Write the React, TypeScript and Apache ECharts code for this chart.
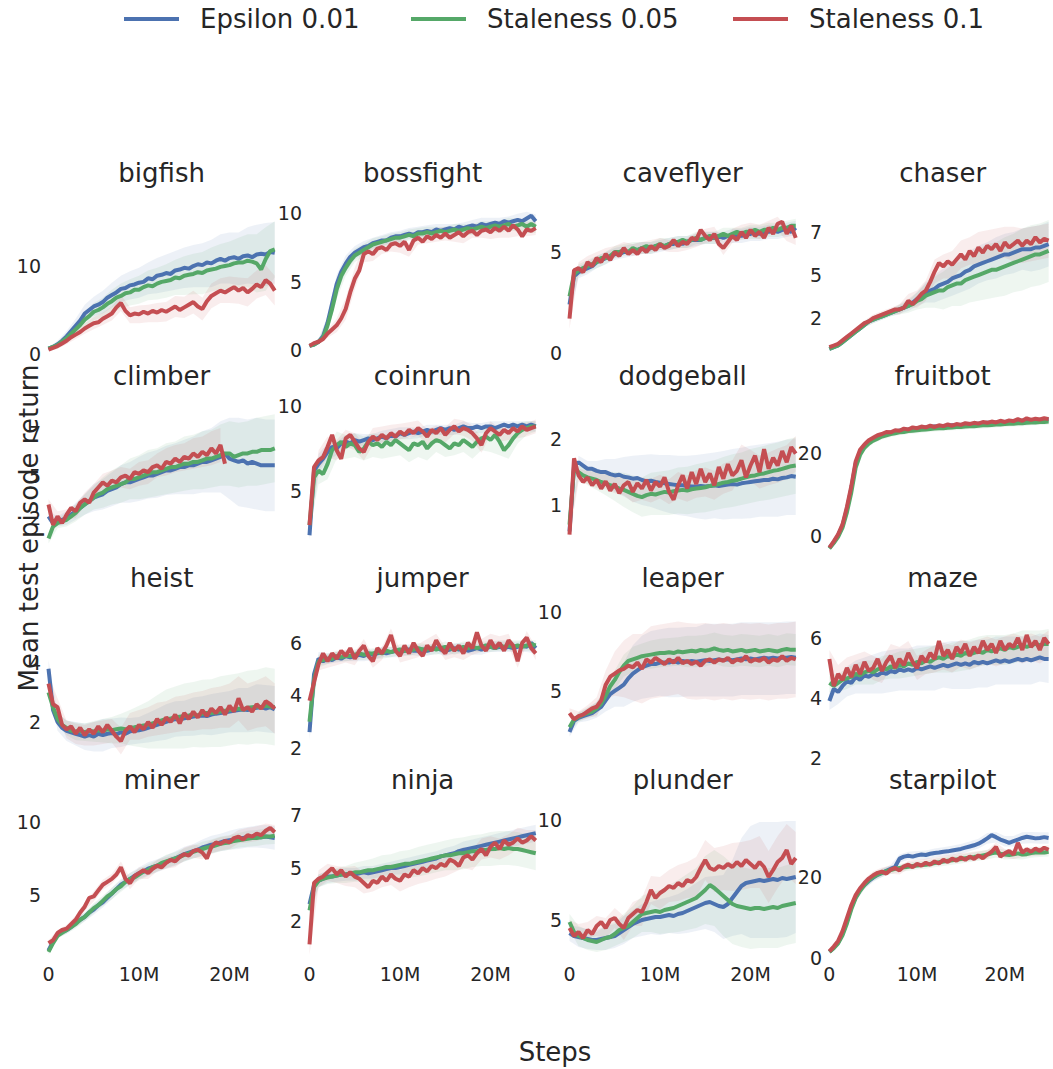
import React, { useEffect, useRef } from "react";
import * as echarts from "echarts";

const FONT = "DejaVu Sans";
const TEXT = "#262626";
const SERIES_NAMES = ["Epsilon 0.01", "Staleness 0.05", "Staleness 0.1"];
const SERIES_COLORS = ["#4C72B0", "#55A868", "#C44E52"];
const GAMES = ["bigfish", "bossfight", "caveflyer", "chaser", "climber", "coinrun", "dodgeball", "fruitbot", "heist", "jumper", "leaper", "maze", "miner", "ninja", "plunder", "starpilot"];

const STEPS_M = [0,0.5,1,1.5,2,2.5,3,3.5,4,4.5,5,5.5,6,6.5,7,7.5,8,8.5,9,9.5,10,10.5,11,11.5,12,12.5,13,13.5,14,14.5,15,15.5,16,16.5,17,17.5,18,18.5,19,19.5,20,20.5,21,21.5,22,22.5,23,23.5,24,24.5,25];
const BAND_STEPS_M = [0,1,2,3,4,5,6,7,8,9,10,11,12,13,14,15,16,17,18,19,20,21,22,23,24,25];
const X_TICKS = [0, 10, 20];
const X_TICK_LABELS = ["0", "10M", "20M"];

// ---- mean returns (every 0.5M steps) ----
const BIGFISH_EPS = [0.6,0.8,1.1,1.5,2.0,2.6,3.2,3.8,4.6,5.0,5.4,5.6,5.9,6.4,6.7,7.0,7.4,7.5,7.8,7.9,8.1,8.2,8.6,8.5,8.9,9.0,9.2,9.1,9.5,9.6,9.8,9.7,10.0,10.2,10.1,10.4,10.3,10.6,10.8,10.6,10.9,11.0,10.8,11.1,11.2,11.0,11.3,11.4,11.3,11.6,11.5];
const BIGFISH_S05 = [0.6,0.8,1.0,1.4,1.8,2.3,2.8,3.3,3.9,4.3,4.8,5.0,5.3,5.7,6.0,6.4,6.6,6.9,7.0,7.3,7.3,7.6,7.8,7.7,8.0,8.2,8.3,8.4,8.7,8.6,8.9,9.0,9.1,9.3,9.2,9.5,9.6,9.7,9.9,10.0,10.1,10.3,10.4,10.4,10.6,10.5,10.3,9.6,10.8,11.7,11.9];
const BIGFISH_S10 = [0.5,0.7,0.9,1.2,1.5,1.9,2.2,2.5,2.9,3.2,3.5,3.6,4.0,4.3,4.6,5.3,5.8,4.9,4.4,4.6,4.5,4.8,4.6,4.9,4.7,5.0,4.8,5.1,5.4,5.0,5.3,5.6,5.9,5.4,5.1,6.0,6.6,6.9,7.2,7.0,7.3,7.6,7.2,7.5,7.0,7.4,7.9,7.6,8.4,8.0,7.2];

const BOSSFIGHT_EPS = [0.3,0.4,0.6,1.0,2.0,3.4,4.8,5.7,6.3,6.8,7.1,7.3,7.5,7.6,7.8,7.9,8.0,8.0,8.2,8.3,8.3,8.4,8.5,8.4,8.6,8.6,8.7,8.6,8.8,8.7,8.8,8.9,8.8,9.0,8.9,9.0,9.1,9.0,9.2,9.1,9.2,9.3,9.2,9.4,9.3,9.4,9.5,9.4,9.6,9.8,9.4];
const BOSSFIGHT_S05 = [0.3,0.4,0.6,0.9,1.8,3.0,4.4,5.4,6.0,6.5,6.9,7.1,7.3,7.5,7.7,7.8,7.9,8.0,8.1,8.2,8.2,8.3,8.4,8.3,8.5,8.5,8.6,8.5,8.6,8.7,8.6,8.7,8.8,8.7,8.8,8.9,8.8,8.9,9.0,8.9,9.0,9.1,9.0,9.1,9.2,9.0,9.1,9.2,9.0,9.2,9.0];
const BOSSFIGHT_S10 = [0.3,0.5,0.6,0.8,1.2,1.5,1.8,2.3,3.0,4.2,5.2,5.8,7.0,7.2,7.0,7.4,7.5,7.3,7.7,7.8,7.6,7.9,7.3,8.0,8.2,7.9,8.3,8.1,8.4,8.2,8.5,8.2,8.4,8.6,8.3,8.6,8.7,8.4,8.7,8.8,8.6,8.9,8.7,9.0,8.7,9.1,8.8,8.3,8.8,8.7,8.9];

const CAVEFLYER_EPS = [2.4,3.8,4.0,4.1,4.2,4.3,4.5,4.6,4.7,4.8,4.9,4.9,5.0,5.0,5.1,5.1,5.2,5.1,5.2,5.3,5.3,5.3,5.4,5.4,5.5,5.4,5.5,5.6,5.6,5.6,5.7,5.7,5.7,5.8,5.7,5.8,5.8,5.9,5.8,5.9,5.9,6.0,5.9,6.0,6.0,6.1,6.0,6.1,6.1,6.0,6.2];
const CAVEFLYER_S05 = [2.8,3.9,4.1,4.2,4.3,4.4,4.5,4.7,4.7,4.8,5.0,5.0,5.1,5.0,5.2,5.1,5.2,5.3,5.2,5.3,5.4,5.3,5.4,5.5,5.5,5.6,5.5,5.6,5.7,5.6,5.7,5.8,5.7,5.8,5.9,5.8,5.9,6.0,5.9,6.0,6.0,6.1,6.0,6.1,6.1,6.2,6.1,6.2,6.2,6.3,6.3];
const CAVEFLYER_S10 = [1.7,4.1,4.2,4.0,4.5,4.3,4.7,4.5,4.9,4.6,5.0,4.8,5.2,4.9,5.1,4.9,5.2,5.0,5.3,5.1,5.4,5.2,5.3,5.6,5.3,5.5,5.4,5.7,5.6,6.1,5.8,5.6,5.9,5.4,5.2,5.5,5.8,5.6,6.0,5.7,6.1,5.8,6.0,5.7,6.2,5.9,6.4,6.5,5.9,6.3,5.7];

const CHASER_EPS = [0.7,0.8,0.9,1.1,1.3,1.5,1.7,1.9,2.1,2.3,2.4,2.5,2.6,2.7,2.8,2.9,3.0,3.1,3.2,3.4,3.6,3.8,4.0,4.1,4.2,4.4,4.5,4.6,4.8,4.9,5.0,5.2,5.3,5.5,5.6,5.7,5.8,5.9,6.0,6.1,6.2,6.2,6.3,6.4,6.5,6.5,6.5,6.6,6.6,6.7,6.8];
const CHASER_S05 = [0.7,0.8,0.9,1.1,1.3,1.5,1.7,1.9,2.1,2.3,2.4,2.5,2.6,2.7,2.8,2.9,3.0,3.1,3.2,3.3,3.5,3.6,3.8,3.9,4.0,4.1,4.1,4.3,4.4,4.5,4.5,4.7,4.8,4.9,5.0,5.1,5.2,5.3,5.3,5.4,5.5,5.6,5.7,5.8,5.9,6.0,6.1,6.2,6.2,6.3,6.4];
const CHASER_S10 = [0.8,0.9,1.0,1.2,1.4,1.6,1.8,2.0,2.2,2.3,2.5,2.6,2.7,2.8,2.9,3.0,3.0,3.1,3.5,3.3,3.6,3.9,4.1,4.6,5.2,5.7,5.5,5.8,5.6,5.9,6.2,5.9,6.4,6.1,6.6,6.3,6.7,6.5,6.8,6.4,6.9,6.6,6.8,7.0,6.7,7.0,6.8,7.2,6.9,7.1,7.0];

const CLIMBER_EPS = [2.6,2.2,2.3,2.4,2.5,2.7,2.9,3.1,3.3,3.5,3.7,3.8,3.9,4.1,4.2,4.3,4.5,4.6,4.6,4.7,4.8,4.9,5.0,5.0,5.1,5.2,5.3,5.3,5.4,5.5,5.5,5.6,5.6,5.7,5.8,5.8,5.9,6.0,6.1,6.3,6.0,5.9,5.8,5.9,5.7,5.8,5.7,5.6,5.6,5.6,5.6];
const CLIMBER_S05 = [1.3,2.0,2.2,2.3,2.4,2.6,2.8,3.1,3.3,3.5,3.7,3.9,4.0,4.2,4.3,4.4,4.5,4.6,4.8,4.8,4.9,5.0,5.1,5.2,5.2,5.3,5.4,5.5,5.5,5.6,5.7,5.7,5.8,5.8,5.9,6.0,6.0,6.1,6.2,6.3,6.3,6.1,6.2,6.3,6.3,6.4,6.4,6.5,6.5,6.5,6.6];
const CLIMBER_S10 = [3.3,2.1,2.6,2.2,2.7,3.1,2.9,3.4,3.6,3.4,4.0,4.3,4.6,4.4,4.7,4.6,4.9,5.0,4.8,5.2,5.1,5.3,5.2,5.5,5.6,5.4,5.8,5.7,6.0,5.8,6.1,6.0,6.3,6.1,6.4,6.2,6.6,6.3,6.8,5.7];

const COINRUN_EPS = [2.4,6.2,6.6,6.9,7.3,7.6,7.5,7.8,7.9,7.8,8.0,7.9,8.0,8.1,8.0,8.1,8.2,8.1,8.3,8.2,8.4,8.3,8.4,8.5,8.4,8.5,8.6,8.5,8.6,8.7,8.6,8.7,8.6,8.7,8.8,8.7,8.7,8.8,8.7,8.8,8.8,8.7,8.8,8.9,8.8,8.9,8.8,8.9,8.8,8.9,8.8];
const COINRUN_S05 = [3.0,5.8,6.2,6.0,6.6,7.4,7.7,7.9,7.6,7.8,7.7,7.3,7.5,7.9,7.7,7.8,7.6,7.9,7.7,8.0,7.8,7.6,7.4,7.8,7.7,7.9,7.5,7.8,8.0,7.9,7.7,7.5,7.8,7.7,8.0,7.8,7.6,7.9,8.1,8.2,8.0,8.3,7.9,7.4,7.7,8.1,8.4,8.6,8.7,8.8,8.8];
const COINRUN_S10 = [3.0,6.4,6.8,7.0,7.6,8.3,7.4,6.9,8.1,8.3,7.9,7.5,7.3,7.9,8.2,8.0,8.3,8.1,8.4,8.2,8.5,8.3,8.6,8.4,8.7,8.5,8.2,8.6,8.4,8.7,8.3,8.6,8.8,8.5,8.7,8.6,8.4,8.1,7.7,8.4,8.7,8.5,8.3,8.6,8.4,8.7,8.5,8.8,8.6,8.7,8.8];

const DODGEBALL_EPS = [0.6,1.6,1.65,1.6,1.55,1.55,1.52,1.5,1.5,1.47,1.45,1.46,1.43,1.42,1.4,1.41,1.38,1.36,1.37,1.35,1.34,1.33,1.32,1.31,1.3,1.3,1.29,1.28,1.28,1.29,1.28,1.29,1.3,1.29,1.3,1.31,1.32,1.31,1.33,1.34,1.35,1.36,1.37,1.38,1.38,1.4,1.39,1.41,1.42,1.44,1.43];
const DODGEBALL_S05 = [0.7,1.55,1.5,1.45,1.42,1.4,1.38,1.35,1.33,1.3,1.28,1.25,1.23,1.2,1.17,1.14,1.12,1.15,1.17,1.16,1.18,1.2,1.19,1.21,1.22,1.23,1.22,1.24,1.25,1.26,1.27,1.29,1.3,1.32,1.34,1.35,1.37,1.38,1.4,1.42,1.44,1.45,1.47,1.48,1.5,1.52,1.53,1.55,1.57,1.59,1.6];
const DODGEBALL_S10 = [0.55,1.71,1.45,1.35,1.42,1.3,1.38,1.25,1.36,1.22,1.32,1.18,1.3,1.35,1.2,1.33,1.25,1.38,1.22,1.35,1.28,1.42,1.2,1.08,1.3,1.45,1.25,1.5,1.32,1.55,1.35,1.48,1.3,1.58,1.4,1.62,1.45,1.52,1.68,1.42,1.6,1.75,1.5,1.85,1.55,1.72,1.6,1.82,1.65,1.88,1.78];

const FRUITBOT_EPS = [-2.9,-1.5,0.2,2.5,6.5,11.5,17.5,20.3,21.8,22.8,23.5,24.0,24.4,24.8,25.0,25.2,25.4,25.6,25.7,25.9,26.0,26.1,26.2,26.3,26.4,26.4,26.5,26.6,26.7,26.7,26.8,26.9,27.0,27.0,27.1,27.2,27.3,27.3,27.4,27.5,27.5,27.6,27.7,27.7,27.8,27.9,27.9,28.0,28.0,28.1,28.1];
const FRUITBOT_S05 = [-3.0,-1.7,-0.2,2.0,5.7,10.5,16.5,19.6,21.3,22.3,23.0,23.5,24.0,24.3,24.6,24.8,25.0,25.1,25.3,25.4,25.5,25.6,25.7,25.8,25.9,26.0,26.0,26.1,26.2,26.3,26.3,26.4,26.5,26.5,26.6,26.7,26.7,26.8,26.9,26.9,27.0,27.1,27.1,27.2,27.2,27.3,27.4,27.4,27.5,27.5,27.6];
const FRUITBOT_S10 = [-2.8,-1.3,0.4,2.8,7.0,12.0,18.0,20.8,22.1,23.1,23.7,24.3,24.6,25.1,25.0,25.5,25.4,25.9,25.7,26.2,26.0,26.4,26.2,26.6,26.3,26.7,26.5,26.9,26.6,27.0,26.8,27.2,27.0,27.3,27.1,27.5,27.3,27.6,27.4,27.8,27.5,27.9,27.7,28.2,27.8,28.4,28.0,28.3,28.1,28.4,28.2];

const HEIST_EPS = [3.8,2.4,2.0,1.8,1.7,1.65,1.6,1.55,1.5,1.55,1.5,1.6,1.55,1.6,1.62,1.58,1.65,1.6,1.68,1.7,1.72,1.75,1.8,1.85,1.9,1.95,2.0,2.05,2.1,2.08,2.12,2.15,2.18,2.2,2.22,2.2,2.25,2.28,2.3,2.32,2.35,2.38,2.4,2.42,2.4,2.45,2.48,2.5,2.45,2.5,2.42];
const HEIST_S05 = [3.0,2.5,2.1,1.9,1.8,1.7,1.68,1.7,1.65,1.7,1.68,1.72,1.7,1.75,1.72,1.75,1.78,1.75,1.8,1.82,1.85,1.88,1.9,1.95,2.0,2.05,2.1,2.12,2.15,2.18,2.2,2.22,2.25,2.22,2.28,2.3,2.3,2.32,2.35,2.38,2.4,2.42,2.45,2.42,2.48,2.5,2.52,2.5,2.55,2.52,2.5];
const HEIST_S10 = [3.3,2.6,2.5,1.9,1.75,1.85,1.6,1.8,1.55,1.75,1.6,1.85,1.65,1.9,1.7,1.5,1.35,1.7,1.85,1.65,1.9,1.75,2.0,1.8,2.1,1.9,2.15,2.0,2.25,1.95,2.3,2.1,2.35,2.15,2.4,2.2,2.45,2.3,2.5,2.25,2.55,2.35,2.8,2.4,2.5,2.35,2.6,2.45,2.7,2.6,2.45];

const JUMPER_EPS = [2.6,4.8,5.4,5.3,5.4,5.35,5.45,5.4,5.5,5.45,5.5,5.55,5.5,5.6,5.55,5.6,5.65,5.6,5.65,5.7,5.65,5.7,5.75,5.7,5.7,5.75,5.7,5.75,5.8,5.75,5.7,5.75,5.8,5.75,5.8,5.7,5.75,5.8,5.75,5.8,5.85,5.8,5.85,5.8,5.85,5.8,5.85,5.9,5.85,6.0,5.8];
const JUMPER_S05 = [3.0,4.6,5.3,5.35,5.4,5.4,5.5,5.45,5.5,5.5,5.55,5.6,5.55,5.6,5.6,5.65,5.6,5.7,5.65,5.7,5.75,5.7,5.7,5.75,5.8,5.75,5.75,5.8,5.75,5.8,5.85,5.8,5.75,5.8,5.85,5.8,5.85,5.8,5.85,5.9,5.85,5.8,5.9,5.85,5.9,5.85,5.9,5.85,5.9,5.95,5.9];
const JUMPER_S10 = [3.8,4.5,5.2,5.6,5.3,5.6,5.4,5.7,5.5,5.8,5.4,5.7,5.9,5.5,5.3,5.8,5.6,5.9,6.3,5.7,5.5,5.9,5.6,6.0,5.7,5.5,5.9,5.7,6.1,5.8,5.6,6.0,5.7,5.9,5.6,6.0,5.8,6.4,5.9,5.7,6.1,5.8,6.0,5.7,6.1,5.9,5.3,6.0,6.2,5.8,5.6];

const LEAPER_EPS = [2.4,3.1,3.3,3.4,3.5,3.6,3.8,4.0,4.4,4.8,5.0,5.2,5.4,5.8,6.1,6.3,6.5,6.6,6.7,6.7,6.8,6.8,6.8,6.9,6.8,6.9,6.85,6.9,6.85,6.9,6.95,6.9,6.95,7.0,6.95,7.0,6.95,7.0,7.05,7.0,7.05,7.0,7.05,7.1,7.05,7.1,7.05,7.1,7.1,7.15,7.1];
const LEAPER_S05 = [2.7,3.2,3.35,3.5,3.6,3.7,3.9,4.2,4.7,5.3,5.7,6.2,6.6,6.9,7.0,7.1,7.2,7.25,7.3,7.35,7.4,7.4,7.45,7.4,7.5,7.45,7.5,7.55,7.5,7.6,7.55,7.6,7.7,7.6,7.55,7.6,7.5,7.55,7.6,7.5,7.55,7.6,7.5,7.55,7.6,7.55,7.5,7.6,7.65,7.6,7.6];
const LEAPER_S10 = [3.6,3.2,3.4,3.5,3.7,3.9,4.0,4.4,5.4,5.9,6.1,6.3,6.4,6.6,6.5,6.8,6.4,7.0,6.8,7.1,6.9,6.7,7.0,6.8,7.1,6.75,6.9,6.7,6.85,6.6,6.9,7.0,6.8,7.0,6.9,7.1,6.8,7.0,6.9,7.2,6.85,7.0,6.9,7.1,6.8,7.0,6.9,7.2,6.9,7.1,7.0];

const MAZE_EPS = [3.9,4.3,4.2,4.4,4.55,4.5,4.7,4.6,4.75,4.7,4.8,4.75,4.85,4.8,4.9,4.85,4.95,4.9,4.95,4.9,5.0,4.95,5.0,5.05,5.0,5.05,5.1,5.05,5.1,5.15,5.1,5.15,5.1,5.2,5.15,5.2,5.15,5.2,5.25,5.2,5.25,5.2,5.25,5.3,5.25,5.3,5.25,5.3,5.35,5.3,5.3];
const MAZE_S05 = [4.5,4.4,4.5,4.6,4.65,4.7,4.8,4.75,4.85,4.9,4.85,4.95,5.0,4.95,5.05,5.0,5.1,5.05,5.15,5.1,5.2,5.15,5.25,5.2,5.3,5.35,5.3,5.4,5.35,5.45,5.4,5.5,5.45,5.5,5.55,5.5,5.6,5.55,5.6,5.65,5.6,5.7,5.65,5.7,5.75,5.7,5.75,5.8,5.75,5.8,5.8];
const MAZE_S10 = [5.3,4.4,4.8,4.6,5.0,4.7,5.1,4.8,5.2,4.9,5.0,5.3,4.9,5.2,5.4,5.0,5.3,5.1,5.5,5.2,5.0,5.4,5.2,5.5,5.3,5.9,5.4,5.6,5.3,5.7,5.5,5.8,5.4,5.7,5.5,5.9,5.6,5.8,5.5,5.9,5.6,5.8,5.7,6.0,5.6,6.1,5.7,5.9,5.6,6.0,5.8];

const MINER_EPS = [1.2,1.8,2.3,2.5,2.6,2.8,3.1,3.3,3.5,3.8,4.0,4.3,4.5,4.8,5.1,5.4,5.7,5.9,6.1,6.3,6.5,6.6,6.8,6.9,7.0,7.1,7.25,7.4,7.5,7.65,7.8,7.9,8.0,8.1,8.25,8.35,8.45,8.5,8.6,8.7,8.75,8.8,8.85,8.9,8.95,8.95,9.0,8.95,9.0,8.95,8.9];
const MINER_S05 = [1.1,1.7,2.2,2.4,2.6,2.8,3.0,3.3,3.5,3.8,4.1,4.3,4.6,4.9,5.1,5.4,5.6,5.9,6.1,6.2,6.4,6.6,6.7,6.9,7.0,7.2,7.3,7.4,7.5,7.6,7.75,7.85,7.95,8.05,8.15,8.25,8.3,8.4,8.5,8.55,8.6,8.7,8.75,8.8,8.85,8.9,8.9,8.95,9.0,9.0,9.05];
const MINER_S10 = [1.7,1.9,2.4,2.6,2.7,3.0,3.3,3.8,4.2,4.8,4.9,5.3,5.7,5.9,6.1,6.4,6.9,6.1,5.8,6.3,6.5,6.7,6.5,6.8,7.0,6.9,7.2,7.4,7.3,7.6,7.8,7.7,8.0,8.1,7.9,7.5,8.3,8.6,8.5,8.7,8.6,8.9,9.0,8.8,9.1,9.0,9.2,9.1,9.4,9.6,9.3];

const NINJA_EPS = [3.3,4.2,4.4,4.5,4.6,4.6,4.65,4.7,4.7,4.75,4.7,4.75,4.8,4.75,4.8,4.85,4.9,4.95,5.0,5.0,5.05,5.1,5.15,5.2,5.25,5.3,5.35,5.4,5.45,5.55,5.6,5.65,5.7,5.8,5.85,5.9,5.95,6.0,6.05,6.1,6.15,6.2,6.25,6.3,6.35,6.4,6.45,6.5,6.55,6.6,6.65];
const NINJA_S05 = [3.0,4.1,4.4,4.5,4.55,4.6,4.65,4.7,4.7,4.75,4.8,4.8,4.85,4.9,4.9,4.95,5.0,5.05,5.05,5.1,5.15,5.2,5.2,5.25,5.3,5.35,5.4,5.45,5.5,5.55,5.6,5.6,5.65,5.7,5.7,5.75,5.8,5.8,5.85,5.85,5.9,5.9,5.95,5.9,5.95,5.9,5.9,5.85,5.8,5.75,5.7];
const NINJA_S10 = [1.4,4.3,4.5,4.6,4.8,5.0,4.7,4.9,4.6,4.8,4.6,4.5,4.3,4.1,4.4,4.3,4.6,4.4,4.7,4.5,4.4,4.7,4.6,4.9,4.75,5.0,4.85,5.1,5.0,5.2,5.1,5.4,5.3,5.1,5.5,5.6,5.4,5.7,5.9,5.6,6.0,6.2,5.9,6.3,6.1,6.2,6.4,6.2,6.3,6.5,6.3];

const PLUNDER_EPS = [4.35,4.2,4.15,4.1,4.05,4.0,4.0,4.05,4.1,4.15,4.2,4.35,4.5,4.65,4.8,4.9,5.0,5.05,5.1,5.15,5.15,5.2,5.25,5.2,5.3,5.35,5.45,5.55,5.65,5.75,5.85,5.9,5.8,5.7,5.65,5.8,6.1,6.4,6.7,6.85,6.9,6.95,7.0,6.95,7.0,7.05,7.0,7.1,7.05,7.1,7.15];
const PLUNDER_S05 = [4.9,4.4,4.2,4.1,4.0,3.95,3.9,4.0,4.1,4.15,4.3,4.5,4.6,4.7,4.9,5.1,5.3,5.35,5.4,5.45,5.4,5.5,5.55,5.6,5.7,5.8,5.9,6.0,6.1,6.3,6.5,6.75,6.6,6.4,6.2,6.0,5.8,5.7,5.65,5.6,5.55,5.6,5.6,5.55,5.6,5.65,5.6,5.7,5.75,5.8,5.85];
const PLUNDER_S10 = [4.6,4.2,4.4,4.1,4.5,4.3,4.7,4.9,4.6,5.0,5.1,4.8,4.6,5.1,5.3,5.5,5.4,5.9,6.5,6.1,6.35,6.5,6.7,6.6,6.85,6.7,7.0,6.9,7.15,7.6,8.0,7.6,7.5,7.7,7.6,7.8,7.65,7.9,7.7,8.0,7.8,7.6,7.9,7.65,7.15,7.5,7.9,8.1,8.5,7.8,8.1];

const STARPILOT_EPS = [1.5,2.5,3.8,6.0,9.0,12.5,15.0,16.8,18.0,19.0,19.8,20.5,21.0,21.5,22.0,22.5,24.5,25.0,25.2,25.0,25.3,25.5,25.4,25.7,25.9,26.0,26.2,26.3,26.5,26.7,26.9,27.2,27.5,27.8,28.2,28.8,29.5,30.3,29.8,29.2,28.8,28.4,28.8,29.2,29.6,29.9,29.7,29.5,29.6,29.8,29.6];
const STARPILOT_S05 = [1.5,2.4,3.6,5.6,8.5,12.0,14.8,16.6,18.0,19.2,20.0,20.6,21.0,21.4,21.7,22.0,22.2,22.4,22.5,22.7,22.8,22.9,23.0,23.2,23.4,23.6,23.8,24.0,24.1,24.3,24.4,24.6,24.8,24.9,25.1,25.3,25.5,25.8,26.0,25.7,25.5,25.4,25.6,25.8,25.5,25.6,25.9,26.0,26.1,26.0,26.2];
const STARPILOT_S10 = [1.6,2.8,4.2,6.6,9.8,13.0,15.5,17.2,18.5,19.6,20.4,21.0,21.3,20.8,21.8,22.2,21.6,22.6,23.0,22.4,23.2,22.8,23.5,23.0,23.8,23.3,24.2,23.7,24.5,24.0,24.8,24.2,25.0,24.4,25.3,24.6,25.5,26.2,27.4,25.0,25.8,26.4,25.5,28.4,26.0,26.8,26.2,27.0,26.4,27.2,26.7];

// ---- band half-widths (every 1M steps) ----
const BIGFISH_EPS_SD = [0.2,0.4,0.6,0.8,1.0,1.1,1.3,1.4,1.5,1.6,1.7,1.8,2.0,2.1,2.2,2.3,2.4,2.5,2.7,2.8,2.9,3.0,3.2,3.4,3.6,3.5];
const BIGFISH_S05_SD = [0.2,0.3,0.5,0.7,0.9,1.0,1.1,1.3,1.4,1.5,1.6,1.7,1.8,1.9,2.0,2.2,2.3,2.4,2.5,2.6,2.7,2.8,3.0,3.3,3.6,3.2];
const BIGFISH_S10_SD = [0.2,0.3,0.4,0.5,0.6,0.7,0.7,0.8,0.9,0.9,1.0,1.0,1.1,1.1,1.2,1.2,1.3,1.3,1.4,1.4,1.5,1.5,1.6,1.6,1.7,1.7];
const BOSSFIGHT_EPS_SD = [0.1,0.2,0.5,0.7,0.6,0.5,0.45,0.4,0.4,0.4,0.4,0.4,0.4,0.4,0.4,0.4,0.4,0.4,0.4,0.45,0.45,0.45,0.45,0.45,0.5,0.5];
const BOSSFIGHT_S05_SD = [0.1,0.2,0.5,0.7,0.6,0.5,0.45,0.45,0.4,0.4,0.4,0.4,0.4,0.4,0.4,0.4,0.4,0.4,0.4,0.4,0.4,0.45,0.45,0.45,0.45,0.45];
const BOSSFIGHT_S10_SD = [0.1,0.2,0.3,0.5,0.8,0.8,0.6,0.5,0.5,0.5,0.5,0.5,0.5,0.5,0.5,0.5,0.5,0.5,0.5,0.5,0.5,0.5,0.5,0.5,0.5,0.5];
const CAVEFLYER_EPS_SD = [0.5,0.3,0.3,0.3,0.3,0.3,0.3,0.3,0.3,0.3,0.3,0.3,0.3,0.3,0.3,0.3,0.3,0.3,0.35,0.35,0.35,0.35,0.35,0.35,0.35,0.35];
const CAVEFLYER_S05_SD = [0.5,0.3,0.3,0.3,0.3,0.3,0.3,0.3,0.3,0.3,0.3,0.3,0.3,0.3,0.3,0.3,0.3,0.3,0.3,0.3,0.35,0.35,0.35,0.35,0.35,0.35];
const CAVEFLYER_S10_SD = [0.5,0.3,0.3,0.3,0.3,0.3,0.3,0.3,0.3,0.3,0.3,0.3,0.3,0.3,0.35,0.35,0.35,0.35,0.35,0.35,0.35,0.35,0.35,0.35,0.35,0.35];
const CHASER_EPS_SD = [0.1,0.1,0.1,0.15,0.15,0.2,0.2,0.2,0.25,0.3,0.4,0.6,0.8,0.9,1.0,1.0,1.1,1.1,1.1,1.2,1.2,1.2,1.2,1.3,1.3,1.3];
const CHASER_S05_SD = [0.1,0.1,0.1,0.15,0.15,0.2,0.2,0.2,0.3,0.4,0.5,0.7,0.9,1.1,1.2,1.3,1.4,1.5,1.6,1.6,1.7,1.7,1.8,1.8,1.8,1.8];
const CHASER_S10_SD = [0.1,0.1,0.1,0.15,0.15,0.2,0.2,0.2,0.3,0.4,0.5,0.6,0.7,0.7,0.8,0.8,0.8,0.9,0.9,0.9,0.9,1.0,1.0,1.0,1.0,1.0];
const CLIMBER_EPS_SD = [0.3,0.3,0.4,0.5,0.6,0.8,0.9,1.0,1.1,1.2,1.3,1.35,1.4,1.45,1.5,1.6,1.7,1.8,1.9,2.1,2.4,2.6,2.6,2.7,2.7,2.7];
const CLIMBER_S05_SD = [0.3,0.3,0.4,0.5,0.6,0.7,0.9,1.0,1.1,1.2,1.3,1.4,1.4,1.5,1.5,1.6,1.6,1.7,1.7,1.8,1.9,1.9,1.9,2.0,2.0,2.0];
const CLIMBER_S10_SD = [0.3,0.3,0.3,0.4,0.4,0.5,0.5,0.6,0.6,0.6,0.7,0.7,0.7,0.8,0.8,0.8,0.9,0.9,1.0,1.0];
const COINRUN_EPS_SD = [0.3,0.6,0.5,0.4,0.4,0.4,0.35,0.35,0.35,0.35,0.35,0.35,0.3,0.3,0.3,0.3,0.3,0.3,0.3,0.3,0.3,0.3,0.3,0.3,0.3,0.3];
const COINRUN_S05_SD = [0.3,0.8,0.9,0.8,0.7,0.7,0.7,0.7,0.7,0.7,0.7,0.7,0.7,0.7,0.7,0.7,0.7,0.7,0.7,0.7,0.7,0.8,0.8,0.6,0.4,0.3];
const COINRUN_S10_SD = [0.3,0.6,0.6,0.6,0.5,0.5,0.5,0.5,0.5,0.5,0.45,0.45,0.45,0.45,0.45,0.45,0.45,0.45,0.45,0.45,0.4,0.4,0.4,0.4,0.4,0.4];
const DODGEBALL_EPS_SD = [0.05,0.1,0.12,0.15,0.2,0.25,0.3,0.35,0.38,0.4,0.42,0.44,0.45,0.46,0.48,0.5,0.5,0.52,0.53,0.54,0.55,0.55,0.56,0.57,0.57,0.58];
const DODGEBALL_S05_SD = [0.05,0.1,0.12,0.15,0.18,0.22,0.26,0.28,0.3,0.32,0.33,0.34,0.35,0.36,0.37,0.38,0.38,0.39,0.4,0.4,0.41,0.41,0.42,0.42,0.43,0.43];
const DODGEBALL_S10_SD = [0.05,0.1,0.1,0.12,0.12,0.14,0.15,0.16,0.17,0.18,0.18,0.19,0.2,0.2,0.21,0.22,0.22,0.23,0.23,0.24,0.24,0.25,0.25,0.26,0.26,0.27];
const FRUITBOT_EPS_SD = [0.3,0.6,1.0,1.0,0.8,0.7,0.7,0.6,0.6,0.6,0.6,0.6,0.6,0.6,0.6,0.6,0.6,0.6,0.6,0.6,0.6,0.6,0.6,0.6,0.6,0.6];
const FRUITBOT_S05_SD = [0.3,0.6,1.0,1.0,0.8,0.7,0.7,0.7,0.7,0.7,0.7,0.7,0.7,0.7,0.7,0.7,0.7,0.7,0.7,0.7,0.7,0.7,0.7,0.7,0.7,0.7];
const FRUITBOT_S10_SD = [0.3,0.6,1.0,1.0,0.8,0.7,0.6,0.6,0.6,0.6,0.6,0.6,0.6,0.6,0.6,0.6,0.6,0.6,0.6,0.6,0.6,0.6,0.6,0.6,0.6,0.6];
const HEIST_EPS_SD = [0.3,0.3,0.35,0.4,0.45,0.5,0.55,0.5,0.5,0.45,0.45,0.5,0.55,0.6,0.6,0.6,0.65,0.65,0.7,0.7,0.7,0.75,0.75,0.8,0.8,0.8];
const HEIST_S05_SD = [0.2,0.2,0.25,0.3,0.3,0.35,0.4,0.45,0.5,0.6,0.7,0.8,0.9,1.0,1.05,1.1,1.1,1.15,1.15,1.2,1.2,1.2,1.25,1.25,1.3,1.3];
const HEIST_S10_SD = [0.3,0.3,0.3,0.35,0.35,0.4,0.4,0.4,0.45,0.45,0.5,0.5,0.55,0.55,0.6,0.6,0.65,0.65,0.7,0.7,0.75,0.75,0.8,0.8,0.85,0.85];
const JUMPER_EPS_SD = [0.3,0.25,0.2,0.2,0.2,0.2,0.2,0.2,0.2,0.2,0.2,0.2,0.2,0.2,0.2,0.2,0.2,0.2,0.2,0.2,0.2,0.2,0.2,0.2,0.2,0.2];
const JUMPER_S05_SD = [0.3,0.25,0.2,0.2,0.2,0.2,0.2,0.2,0.2,0.2,0.2,0.2,0.2,0.2,0.2,0.2,0.2,0.2,0.2,0.2,0.2,0.2,0.2,0.2,0.2,0.2];
const JUMPER_S10_SD = [0.3,0.25,0.25,0.25,0.25,0.25,0.25,0.25,0.25,0.25,0.25,0.25,0.25,0.25,0.25,0.25,0.25,0.25,0.25,0.25,0.25,0.25,0.25,0.25,0.25,0.25];
const LEAPER_EPS_SD = [0.3,0.3,0.4,0.5,0.7,1.0,1.4,1.8,2.0,2.1,2.1,2.2,2.2,2.2,2.2,2.3,2.3,2.3,2.3,2.3,2.3,2.3,2.3,2.3,2.3,2.3];
const LEAPER_S05_SD = [0.3,0.3,0.35,0.4,0.5,0.6,0.7,0.8,0.8,0.9,0.9,0.9,0.9,1.0,1.0,1.0,1.0,1.0,1.0,1.0,1.0,1.0,1.0,1.0,1.0,1.0];
const LEAPER_S10_SD = [0.3,0.3,0.4,0.6,0.9,1.4,1.8,2.1,2.2,2.3,2.3,2.3,2.3,2.4,2.4,2.4,2.4,2.4,2.4,2.4,2.4,2.4,2.4,2.4,2.4,2.4];
const MAZE_EPS_SD = [0.3,0.4,0.5,0.55,0.6,0.65,0.7,0.7,0.7,0.7,0.75,0.75,0.75,0.75,0.8,0.8,0.8,0.8,0.8,0.8,0.8,0.8,0.8,0.8,0.8,0.8];
const MAZE_S05_SD = [0.3,0.3,0.35,0.35,0.4,0.4,0.4,0.4,0.45,0.45,0.45,0.45,0.45,0.45,0.5,0.5,0.5,0.5,0.5,0.5,0.5,0.5,0.5,0.5,0.5,0.5];
const MAZE_S10_SD = [0.3,0.3,0.35,0.35,0.35,0.4,0.4,0.4,0.4,0.4,0.4,0.4,0.45,0.45,0.45,0.45,0.45,0.45,0.45,0.45,0.45,0.45,0.45,0.45,0.45,0.45];
const MINER_EPS_SD = [0.2,0.2,0.25,0.3,0.3,0.35,0.35,0.4,0.4,0.4,0.4,0.45,0.45,0.45,0.5,0.5,0.5,0.55,0.6,0.6,0.65,0.7,0.7,0.75,0.8,0.8];
const MINER_S05_SD = [0.2,0.2,0.25,0.3,0.3,0.35,0.35,0.4,0.4,0.4,0.4,0.4,0.4,0.45,0.45,0.45,0.45,0.5,0.5,0.5,0.5,0.5,0.55,0.55,0.55,0.55];
const MINER_S10_SD = [0.2,0.2,0.25,0.3,0.3,0.35,0.35,0.35,0.4,0.4,0.4,0.4,0.4,0.4,0.4,0.45,0.45,0.45,0.45,0.45,0.45,0.45,0.5,0.5,0.5,0.5];
const NINJA_EPS_SD = [0.4,0.3,0.3,0.3,0.3,0.3,0.3,0.3,0.3,0.3,0.35,0.35,0.35,0.35,0.35,0.35,0.35,0.4,0.4,0.4,0.4,0.4,0.4,0.4,0.4,0.4];
const NINJA_S05_SD = [0.4,0.3,0.3,0.35,0.4,0.45,0.5,0.55,0.6,0.6,0.65,0.65,0.7,0.7,0.7,0.7,0.75,0.75,0.75,0.75,0.8,0.8,0.8,0.8,0.8,0.8];
const NINJA_S10_SD = [0.5,0.4,0.4,0.4,0.45,0.5,0.5,0.5,0.5,0.5,0.5,0.5,0.5,0.5,0.5,0.5,0.5,0.5,0.5,0.5,0.5,0.5,0.5,0.5,0.5,0.5];
const PLUNDER_EPS_SD = [0.4,0.5,0.5,0.5,0.6,0.6,0.7,0.7,0.8,0.8,0.9,0.9,1.0,1.1,1.2,1.3,1.4,1.6,1.9,2.4,2.8,2.9,2.9,2.9,2.9,2.8];
const PLUNDER_S05_SD = [0.4,0.5,0.5,0.5,0.6,0.6,0.7,0.8,0.9,1.0,1.1,1.2,1.3,1.4,1.5,1.7,1.9,2.0,2.0,2.0,2.0,2.0,2.0,2.0,2.0,2.0];
const PLUNDER_S10_SD = [0.4,0.4,0.4,0.5,0.5,0.5,0.6,0.6,0.7,0.7,0.8,0.8,0.9,0.9,1.0,1.0,1.1,1.1,1.2,1.2,1.2,1.3,1.3,1.3,1.3,1.3];
const STARPILOT_EPS_SD = [0.3,0.5,0.8,1.0,1.0,1.0,1.0,1.0,1.0,1.0,1.1,1.1,1.1,1.1,1.2,1.2,1.2,1.2,1.3,1.3,1.3,1.3,1.4,1.4,1.4,1.4];
const STARPILOT_S05_SD = [0.3,0.5,0.8,1.0,1.0,1.0,1.0,1.0,1.0,1.0,1.0,1.0,1.0,1.1,1.1,1.1,1.1,1.1,1.2,1.2,1.2,1.2,1.2,1.2,1.2,1.2];
const STARPILOT_S10_SD = [0.3,0.5,0.8,1.0,1.0,1.0,1.0,1.0,1.0,1.0,1.0,1.0,1.0,1.0,1.0,1.1,1.1,1.1,1.1,1.1,1.1,1.1,1.1,1.1,1.1,1.1];

// ---- per-panel y axis ----
const Y_MIN = [-0.23, -0.44, -0.15, 0.29, 0.21, 1.12, 0.21, -5.06, 0.71, 1.54, 0.63, 1.93, 0.41, 0.57, 2.9, -1.0];
const Y_MAX = [17.05, 10.66, 7.38, 9.13, 9.15, 10.06, 2.52, 31.6, 5.86, 7.33, 10.25, 7.0, 10.82, 7.74, 10.5, 36.5];
const Y_TICKS = [[0,10],[0,5,10],[0,5],[2.5,5,7.5],[2.5,5,7.5],[5,10],[1,2],[0,20],[2,4],[2,4,6],[5,10],[2,4,6],[5,10],[2.5,5,7.5],[5,10],[0,20]];
const Y_TICK_LABELS = [["0","10"],["0","5","10"],["0","5"],["2","5","7"],["2","5","7"],["5","10"],["1","2"],["0","20"],["2","4"],["2","4","6"],["5","10"],["2","4","6"],["5","10"],["2","5","7"],["5","10"],["0","20"]];

const MEANS = [
  [BIGFISH_EPS, BIGFISH_S05, BIGFISH_S10],
  [BOSSFIGHT_EPS, BOSSFIGHT_S05, BOSSFIGHT_S10],
  [CAVEFLYER_EPS, CAVEFLYER_S05, CAVEFLYER_S10],
  [CHASER_EPS, CHASER_S05, CHASER_S10],
  [CLIMBER_EPS, CLIMBER_S05, CLIMBER_S10],
  [COINRUN_EPS, COINRUN_S05, COINRUN_S10],
  [DODGEBALL_EPS, DODGEBALL_S05, DODGEBALL_S10],
  [FRUITBOT_EPS, FRUITBOT_S05, FRUITBOT_S10],
  [HEIST_EPS, HEIST_S05, HEIST_S10],
  [JUMPER_EPS, JUMPER_S05, JUMPER_S10],
  [LEAPER_EPS, LEAPER_S05, LEAPER_S10],
  [MAZE_EPS, MAZE_S05, MAZE_S10],
  [MINER_EPS, MINER_S05, MINER_S10],
  [NINJA_EPS, NINJA_S05, NINJA_S10],
  [PLUNDER_EPS, PLUNDER_S05, PLUNDER_S10],
  [STARPILOT_EPS, STARPILOT_S05, STARPILOT_S10],
];
const SPREADS = [
  [BIGFISH_EPS_SD, BIGFISH_S05_SD, BIGFISH_S10_SD],
  [BOSSFIGHT_EPS_SD, BOSSFIGHT_S05_SD, BOSSFIGHT_S10_SD],
  [CAVEFLYER_EPS_SD, CAVEFLYER_S05_SD, CAVEFLYER_S10_SD],
  [CHASER_EPS_SD, CHASER_S05_SD, CHASER_S10_SD],
  [CLIMBER_EPS_SD, CLIMBER_S05_SD, CLIMBER_S10_SD],
  [COINRUN_EPS_SD, COINRUN_S05_SD, COINRUN_S10_SD],
  [DODGEBALL_EPS_SD, DODGEBALL_S05_SD, DODGEBALL_S10_SD],
  [FRUITBOT_EPS_SD, FRUITBOT_S05_SD, FRUITBOT_S10_SD],
  [HEIST_EPS_SD, HEIST_S05_SD, HEIST_S10_SD],
  [JUMPER_EPS_SD, JUMPER_S05_SD, JUMPER_S10_SD],
  [LEAPER_EPS_SD, LEAPER_S05_SD, LEAPER_S10_SD],
  [MAZE_EPS_SD, MAZE_S05_SD, MAZE_S10_SD],
  [MINER_EPS_SD, MINER_S05_SD, MINER_S10_SD],
  [NINJA_EPS_SD, NINJA_S05_SD, NINJA_S10_SD],
  [PLUNDER_EPS_SD, PLUNDER_S05_SD, PLUNDER_S10_SD],
  [STARPILOT_EPS_SD, STARPILOT_S05_SD, STARPILOT_S10_SD],
];

// ---- layout ----
const X_MIN = -0.5;
const X_MAX = 25.5;
const GRID_LEFT = [43.98, 304.98, 564.98, 824.98];
const GRID_TOP = [204, 405, 608, 810];
const GRID_W = 235.3;
const GRID_H = 152;
const TITLE_Y = [173, 375.5, 578, 780];
const LEGEND_LEFT = [124, 411, 733];

function buildOption() {
  const grid: any[] = [];
  const xAxis: any[] = [];
  const yAxis: any[] = [];
  const series: any[] = [];
  const graphic: any[] = [];

  GAMES.forEach((game, i) => {
    const r = Math.floor(i / 4);
    const c = i % 4;
    grid.push({ left: GRID_LEFT[c], top: GRID_TOP[r], width: GRID_W, height: GRID_H, containLabel: false });
    xAxis.push({
      type: "value", gridIndex: i, min: X_MIN, max: X_MAX,
      axisLine: { show: false }, axisTick: { show: false }, splitLine: { show: false },
      axisLabel: {
        show: r === 3, customValues: X_TICKS,
        formatter: (v: number) => { const k = X_TICKS.indexOf(v); return k >= 0 ? X_TICK_LABELS[k] : ""; },
        fontSize: 19, color: TEXT, fontFamily: FONT, margin: 2,
      },
    });
    const ticks = Y_TICKS[i];
    const labels = Y_TICK_LABELS[i];
    yAxis.push({
      type: "value", gridIndex: i, min: Y_MIN[i], max: Y_MAX[i],
      axisLine: { show: false }, axisTick: { show: false }, splitLine: { show: false },
      axisLabel: {
        customValues: ticks,
        formatter: (v: number) => { const k = ticks.findIndex((t) => Math.abs(t - v) < 1e-9); return k >= 0 ? labels[k] : ""; },
        fontSize: 19, color: TEXT, fontFamily: FONT, margin: 3,
      },
    });

    // shaded bands (mean ± spread), drawn through the axes' own scales
    for (let k = 0; k < 3; k++) {
      const mean = MEANS[i][k];
      const sd = SPREADS[i][k];
      const pts = sd.map((s, j) => [BAND_STEPS_M[j], mean[2 * j] - s, mean[2 * j] + s]);
      const color = SERIES_COLORS[k];
      series.push({
        type: "custom", xAxisIndex: i, yAxisIndex: i, silent: true, z: 1, clip: true,
        data: pts,
        encode: { x: 0, y: [1, 2] },
        renderItem: (params: any, api: any) => {
          if (params.dataIndex !== 0) return null;
          const upper = pts.map((p) => api.coord([p[0], p[2]]));
          const lower = pts.map((p) => api.coord([p[0], p[1]])).reverse();
          return {
            type: "polygon",
            shape: { points: upper.concat(lower) },
            style: { fill: color, opacity: 0.1 },
          };
        },
      });
    }
    // mean lines
    for (let k = 0; k < 3; k++) {
      const mean = MEANS[i][k];
      series.push({
        type: "line", name: SERIES_NAMES[k], xAxisIndex: i, yAxisIndex: i,
        data: mean.map((v, j) => [STEPS_M[j], v]),
        symbol: "none", showSymbol: false,
        lineStyle: { color: SERIES_COLORS[k], width: 4 },
        itemStyle: { color: SERIES_COLORS[k] },
        z: 2 + k,
      });
    }

    graphic.push({
      type: "text",
      x: GRID_LEFT[c] + (12.5 - X_MIN) * (GRID_W / (X_MAX - X_MIN)),
      y: TITLE_Y[r],
      style: {
        text: game, fontSize: 26, fontFamily: FONT, fill: TEXT,
        textAlign: "center", textVerticalAlign: "middle", align: "center", verticalAlign: "middle",
      },
    });
  });

  graphic.push({
    type: "text", x: 555, y: 1052,
    style: { text: "Steps", fontSize: 26, fontFamily: FONT, fill: TEXT, textAlign: "center", textVerticalAlign: "middle", align: "center", verticalAlign: "middle" },
  });
  graphic.push({
    type: "text", x: 29, y: 528, rotation: Math.PI / 2,
    style: { text: "Mean test episode return", fontSize: 26, fontFamily: FONT, fill: TEXT, textAlign: "center", textVerticalAlign: "middle", align: "center", verticalAlign: "middle" },
  });

  const legend = SERIES_NAMES.map((n, k) => ({
    data: [n], left: LEGEND_LEFT[k], top: 6, padding: 0, icon: "rect", itemWidth: 55, itemHeight: 4,
    selectedMode: false,
    textStyle: { fontSize: 26, color: TEXT, fontFamily: FONT, padding: [0, 0, 0, 16] },
  }));

  return {
    animation: false,
    backgroundColor: "#ffffff",
    textStyle: { fontFamily: FONT },
    legend, grid, xAxis, yAxis, series, graphic,
  };
}

export default function App() {
  const ref = useRef<HTMLDivElement>(null);
  useEffect(() => {
    if (!ref.current) return;
    const chart = echarts.init(ref.current, undefined, { renderer: "svg" });
    chart.setOption(buildOption() as any);
    return () => chart.dispose();
  }, []);
  return <div ref={ref} style={{ position: "absolute", left: 0, top: 0, width: 1053, height: 1069 }} />;
}
